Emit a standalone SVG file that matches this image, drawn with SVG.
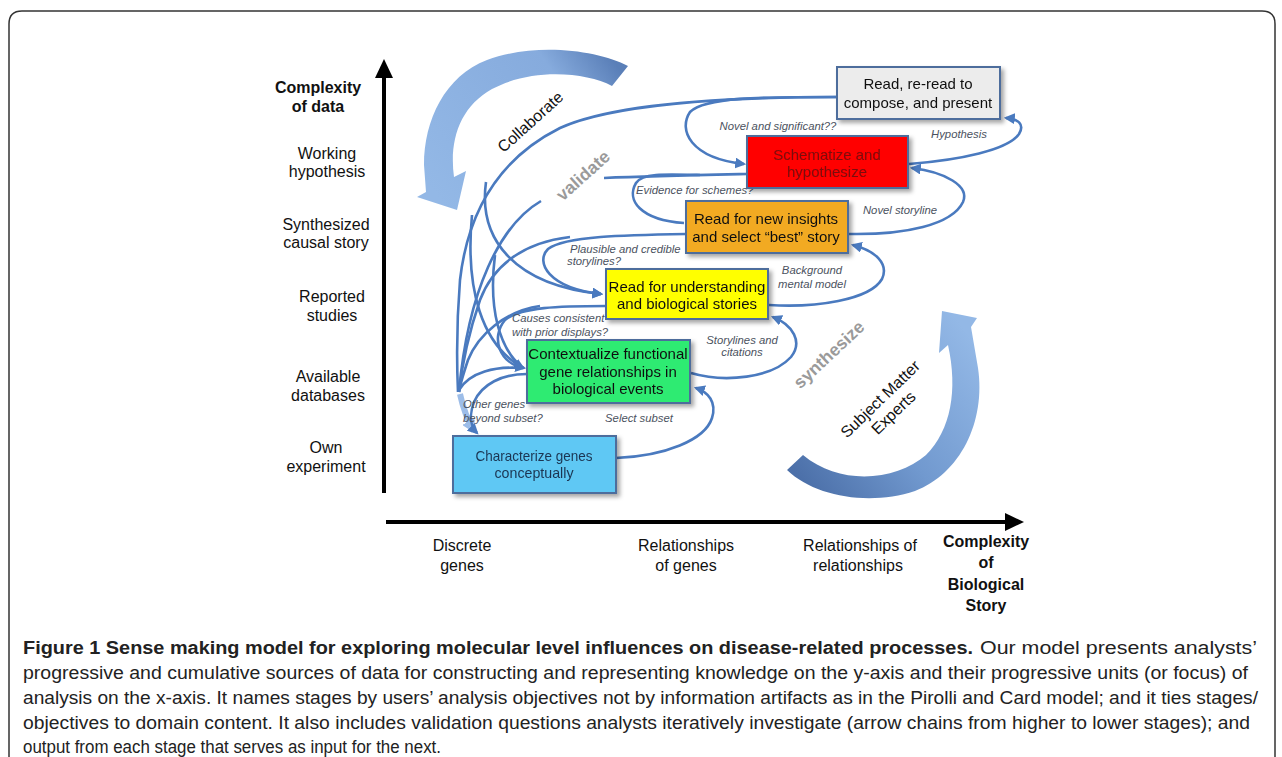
<svg xmlns="http://www.w3.org/2000/svg" width="1282" height="757" viewBox="0 0 1282 757">
<style>
.ax{font-family:'Liberation Sans',Arial,sans-serif;font-size:16px;fill:#111;text-anchor:middle}
.axb{font-weight:bold}
.bt{font-family:'Liberation Sans',Arial,sans-serif;font-size:15px;fill:#111;text-anchor:middle}
.q{font-family:'Liberation Sans',Arial,sans-serif;font-style:italic;font-size:11.3px;fill:#4b5260}
.c{fill:none;stroke:#4a7abf;stroke-width:2.6}
.box{stroke:#4e6d9c;stroke-width:2}
.cap{font-family:'Liberation Sans',Arial,sans-serif;font-size:17.5px;fill:#222}
</style>
<defs>
<marker id="ah" viewBox="0 0 10 10" refX="8" refY="5" markerWidth="11" markerHeight="11" markerUnits="userSpaceOnUse" orient="auto">
<path d="M0,0 L10,5 L0,10 z" fill="#4a7abf"/>
</marker>
<marker id="ahl" viewBox="0 0 10 10" refX="8" refY="5" markerWidth="14" markerHeight="14" markerUnits="userSpaceOnUse" orient="auto">
<path d="M0,0 L10,5 L0,10 z" fill="#9dbde8"/>
</marker>
<filter id="sh" x="-10%" y="-10%" width="125%" height="130%">
<feDropShadow dx="3" dy="3" stdDeviation="2" flood-color="#000" flood-opacity="0.35"/>
</filter>
<linearGradient id="g1" gradientUnits="userSpaceOnUse" x1="620" y1="70" x2="440" y2="200">
<stop offset="0" stop-color="#5a7fb8"/>
<stop offset="0.25" stop-color="#86abdd"/>
<stop offset="1" stop-color="#93b8e6"/>
</linearGradient>
<linearGradient id="g2" gradientUnits="userSpaceOnUse" x1="790" y1="465" x2="965" y2="330">
<stop offset="0" stop-color="#4c70a9"/>
<stop offset="0.45" stop-color="#7199cf"/>
<stop offset="1" stop-color="#93b8e6"/>
</linearGradient>
</defs>

<path d="M9,757 V24 Q9,11 22,11 H1262 Q1275,11 1275,24 V757" fill="none" stroke="#333" stroke-width="1.5"/>

<g id="axes">
<line x1="384" y1="493" x2="384" y2="74" stroke="#000" stroke-width="4"/>
<polygon points="375,78 384,59 393,78" fill="#000"/>
<line x1="386" y1="522" x2="1008" y2="522" stroke="#000" stroke-width="4"/>
<polygon points="1005,513 1024,522 1005,531" fill="#000"/>
</g>

<g id="y-labels">
<text class="ax axb" x="318" y="93">Complexity</text>
<text class="ax axb" x="318" y="112">of data</text>
<text class="ax" x="327" y="159">Working</text>
<text class="ax" x="327" y="177">hypothesis</text>
<text class="ax" x="326" y="230">Synthesized</text>
<text class="ax" x="326" y="248">causal story</text>
<text class="ax" x="332" y="302">Reported</text>
<text class="ax" x="332" y="321">studies</text>
<text class="ax" x="328" y="382">Available</text>
<text class="ax" x="328" y="401">databases</text>
<text class="ax" x="326" y="453">Own</text>
<text class="ax" x="326" y="472">experiment</text>
</g>

<g id="x-labels">
<text class="ax" x="462" y="551">Discrete</text>
<text class="ax" x="462" y="571">genes</text>
<text class="ax" x="686" y="551">Relationships</text>
<text class="ax" x="686" y="571">of genes</text>
<text class="ax" x="860" y="551">Relationships of</text>
<text class="ax" x="858" y="571">relationships</text>
<text class="ax axb" x="986" y="547">Complexity</text>
<text class="ax axb" x="986" y="568">of</text>
<text class="ax axb" x="986" y="590">Biological</text>
<text class="ax axb" x="986" y="611">Story</text>
</g>

<g id="collaborate-arrow">
<path d="M628,66 C598,50 535,42 487,60 C445,76 424,120 424,165 L426,192 L417,197 L457,210 L466,171 L454,177 C449,140 460,107 492,89 C532,68 585,72 612,86 Z" fill="url(#g1)"/>
<text class="ax" transform="translate(534,126) rotate(-42)" x="0" y="0">Collaborate</text>
</g>

<g id="sme-arrow">
<path d="M787,470 C815,497 870,506 915,491 C960,474 986,422 978,368 L971,327 L977,318 L942,311 L939,353 L948,345 C958,390 951,430 926,455 C896,481 840,486 803,455 Z" fill="url(#g2)"/>
<g transform="translate(884,403) rotate(-44)">
<text class="ax" x="0" y="0">Subject Matter</text>
<text class="ax" x="0" y="19">Experts</text>
</g>
</g>

<text transform="translate(587,180) rotate(-42)" x="0" y="0" font-family="'Liberation Sans',Arial,sans-serif" font-size="17.5" font-weight="bold" fill="#9a9a9a" text-anchor="middle">validate</text>
<text transform="translate(833,359) rotate(-43)" x="0" y="0" font-family="'Liberation Sans',Arial,sans-serif" font-size="17.5" font-weight="bold" fill="#9a9a9a" text-anchor="middle">synthesize</text>

<g id="connectors">
<path class="c" d="M837,97 C720,97 610,105 560,128 C500,158 468,210 460,280 C456,330 457,370 458,392"/>
<path class="c" d="M747,174 C700,175 650,176 604,178"/>
<path class="c" d="M541,201 C500,225 468,290 459,392"/>
<path class="c" d="M570,237 C520,243 492,268 480,300 C468,335 462,365 459,392"/>
<path class="c" d="M540,306 C505,311 478,335 468,360 C463,375 460,385 459,392"/>
<path class="c" d="M486,182 C478,240 515,285 601,294" marker-end="url(#ah)"/>
<path class="c" d="M472,215 C465,290 482,345 523,368" marker-end="url(#ah)"/>
<path class="c" d="M495,255 C488,310 500,350 523,368"/>
<path class="c" d="M459,390 C470,372 495,366 523,368"/>
<path d="M460,394 C463,408 468,421 474,431" fill="none" stroke="#9dbde8" stroke-width="6" marker-end="url(#ahl)"/>

<path class="c" d="M837,97 C760,97 705,97 690,112 C678,130 690,158 744,164" marker-end="url(#ah)"/>
<path class="c" d="M700,175 C665,174 642,173 636,183 C626,200 640,220 684,223"/>
<path class="c" d="M686,234 C625,235 565,236 548,249 C535,262 548,288 601,294" marker-end="url(#ah)"/>
<path class="c" d="M606,306 C560,306 520,307 505,320 C490,338 500,364 524,368" marker-end="url(#ah)"/>
<path class="c" d="M527,374 C502,374 482,384 474,402 C468,418 472,428 477,433" marker-end="url(#ah)"/>

<path class="c" d="M616,458 C665,456 705,440 712,418 C717,402 708,392 696,388" marker-end="url(#ah)"/>
<path class="c" d="M691,373 C725,383 772,378 791,357 C803,342 793,325 773,317" marker-end="url(#ah)"/>
<path class="c" d="M769,305 C815,308 870,300 882,279 C889,264 876,251 853,245" marker-end="url(#ah)"/>
<path class="c" d="M849,234 C905,235 952,225 963,202 C970,186 945,172 912,168" marker-end="url(#ah)"/>
<path class="c" d="M909,164 C960,160 1008,150 1019,134 C1025,124 1018,119 1006,118" marker-end="url(#ah)"/>
</g>

<g id="labels">
<text class="q" x="778" y="130" text-anchor="middle">Novel and significant??</text>
<text class="q" x="959" y="138" text-anchor="middle">Hypothesis</text>
<text class="q" x="636" y="194">Evidence for schemes?</text>
<text class="q" x="900" y="214" text-anchor="middle">Novel storyline</text>
<text class="q" x="570" y="253">Plausible and credible</text>
<text class="q" x="567" y="265">storylines?</text>
<text class="q" x="812" y="274" text-anchor="middle">Background</text>
<text class="q" x="812" y="288" text-anchor="middle">mental  model</text>
<text class="q" x="512" y="322">Causes consistent</text>
<text class="q" x="512" y="336">with prior displays?</text>
<text class="q" x="742" y="344" text-anchor="middle">Storylines and</text>
<text class="q" x="742" y="356" text-anchor="middle">citations</text>
<text class="q" x="463" y="408">Other genes</text>
<text class="q" x="463" y="422">beyond subset?</text>
<text class="q" x="639" y="422" text-anchor="middle">Select subset</text>
</g>

<g id="n-present" filter="url(#sh)">
<rect class="box" x="837" y="67" width="163" height="52" fill="#ececec"/>
<text class="bt" x="918" y="89">Read, re-read to</text>
<text class="bt" x="918" y="108">compose, and present</text>
</g>
<g id="n-schematize" filter="url(#sh)">
<rect class="box" x="747" y="136" width="161" height="52" fill="#ff0000"/>
<text class="bt" x="827" y="160" style="fill:#7a0a0a">Schematize and</text>
<text class="bt" x="827" y="177" style="fill:#7a0a0a">hypothesize</text>
</g>
<g id="n-insights" filter="url(#sh)">
<rect class="box" x="686" y="201" width="162" height="52" fill="#f2aa22"/>
<text class="bt" x="766" y="224">Read for new insights</text>
<text class="bt" x="766" y="242">and select “best” story</text>
</g>
<g id="n-understanding" filter="url(#sh)">
<rect class="box" x="606" y="269" width="162" height="50" fill="#ffff00"/>
<text class="bt" x="687" y="292">Read for understanding</text>
<text class="bt" x="687" y="309">and biological stories</text>
</g>
<g id="n-contextualize" filter="url(#sh)">
<rect class="box" x="527" y="340" width="163" height="63" fill="#2deb72"/>
<text class="bt" x="608" y="359">Contextualize functional</text>
<text class="bt" x="608" y="377">gene relationships in</text>
<text class="bt" x="608" y="394">biological events</text>
</g>
<g id="n-characterize" filter="url(#sh)">
<rect class="box" x="453" y="436" width="163" height="57" fill="#5ec8f4"/>
<text class="bt" x="534" y="461" style="fill:#1c3552" textLength="117" lengthAdjust="spacingAndGlyphs">Characterize genes</text>
<text class="bt" x="534" y="478" style="fill:#1c3552" textLength="79" lengthAdjust="spacingAndGlyphs">conceptually</text>
</g>

<g id="caption">
<text class="cap" x="23" y="654" font-weight="bold" textLength="950" lengthAdjust="spacingAndGlyphs">Figure 1 Sense making model for exploring molecular level influences on disease-related processes.</text>
<text class="cap" x="980" y="654" textLength="277" lengthAdjust="spacingAndGlyphs">Our model presents analysts’</text>
<text class="cap" x="23" y="679" textLength="1225" lengthAdjust="spacingAndGlyphs">progressive and cumulative sources of data for constructing and representing knowledge on the y-axis and their progressive units (or focus) of</text>
<text class="cap" x="23" y="704" textLength="1235" lengthAdjust="spacingAndGlyphs">analysis on the x-axis. It names stages by users’ analysis objectives not by information artifacts as in the Pirolli and Card model; and it ties stages/</text>
<text class="cap" x="23" y="729" textLength="1227" lengthAdjust="spacingAndGlyphs">objectives to domain content. It also includes validation questions analysts iteratively investigate (arrow chains from higher to lower stages); and</text>
<text class="cap" x="23" y="753" textLength="418" lengthAdjust="spacingAndGlyphs">output from each stage that serves as input for the next.</text>
</g>
</svg>
